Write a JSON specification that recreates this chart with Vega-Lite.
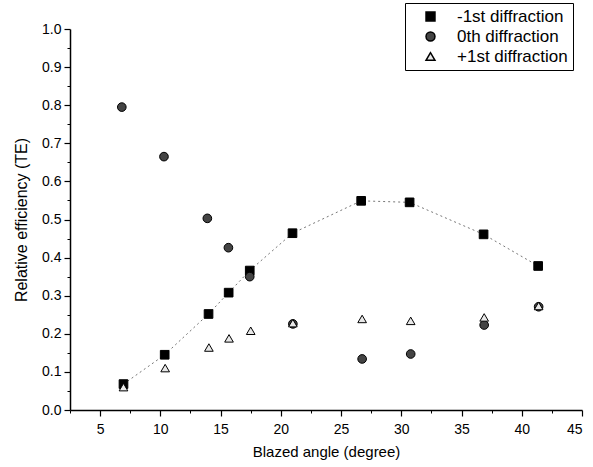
{
  "$schema": "https://vega.github.io/schema/vega-lite/v6.json",
  "width": 512,
  "height": 381,
  "autosize": {"type": "none"},
  "padding": {"left": 70, "top": 29, "right": 11, "bottom": 57},
  "background": "white",
  "datasets": {
    "pts": [
      {"angle": 6.94, "eff": 0.068, "series": "-1st diffraction"},
      {"angle": 10.36, "eff": 0.145, "series": "-1st diffraction"},
      {"angle": 14.0, "eff": 0.252, "series": "-1st diffraction"},
      {"angle": 15.67, "eff": 0.308, "series": "-1st diffraction"},
      {"angle": 17.42, "eff": 0.366, "series": "-1st diffraction"},
      {"angle": 20.97, "eff": 0.464, "series": "-1st diffraction"},
      {"angle": 26.67, "eff": 0.549, "series": "-1st diffraction"},
      {"angle": 30.69, "eff": 0.545, "series": "-1st diffraction"},
      {"angle": 36.83, "eff": 0.461, "series": "-1st diffraction"},
      {"angle": 41.36, "eff": 0.378, "series": "-1st diffraction"},
      {"angle": 6.8, "eff": 0.795, "series": "0th diffraction"},
      {"angle": 10.3, "eff": 0.665, "series": "0th diffraction"},
      {"angle": 13.9, "eff": 0.503, "series": "0th diffraction"},
      {"angle": 15.65, "eff": 0.426, "series": "0th diffraction"},
      {"angle": 17.42, "eff": 0.35, "series": "0th diffraction"},
      {"angle": 21.0, "eff": 0.226, "series": "0th diffraction"},
      {"angle": 26.75, "eff": 0.134, "series": "0th diffraction"},
      {"angle": 30.78, "eff": 0.147, "series": "0th diffraction"},
      {"angle": 36.88, "eff": 0.223, "series": "0th diffraction"},
      {"angle": 41.4, "eff": 0.271, "series": "0th diffraction"},
      {"angle": 6.94, "eff": 0.06, "series": "+1st diffraction"},
      {"angle": 10.4, "eff": 0.11, "series": "+1st diffraction"},
      {"angle": 14.03, "eff": 0.164, "series": "+1st diffraction"},
      {"angle": 15.7, "eff": 0.188, "series": "+1st diffraction"},
      {"angle": 17.5, "eff": 0.208, "series": "+1st diffraction"},
      {"angle": 21.0, "eff": 0.228, "series": "+1st diffraction"},
      {"angle": 26.75, "eff": 0.239, "series": "+1st diffraction"},
      {"angle": 30.78, "eff": 0.234, "series": "+1st diffraction"},
      {"angle": 36.88, "eff": 0.243, "series": "+1st diffraction"},
      {"angle": 41.4, "eff": 0.273, "series": "+1st diffraction"}
    ]
  },
  "data": {"name": "pts"},
  "layer": [
    {
      "transform": [{"filter": "datum.series === '-1st diffraction'"}],
      "mark": {"type": "line", "color": "#777777", "strokeWidth": 1, "strokeDash": [2, 3]},
      "encoding": {
        "x": {"field": "angle", "type": "quantitative", "scale": {"domain": [2.5, 45], "nice": false, "zero": false},
          "axis": {"orient": "bottom", "values": [2.5, 7.5, 12.5, 17.5, 22.5, 27.5, 32.5, 37.5, 42.5], "labels": false, "title": null, "domain": false, "tickSize": 3, "tickWidth": 1}},
        "y": {"field": "eff", "type": "quantitative", "scale": {"domain": [0, 1], "nice": false},
          "axis": {"orient": "left", "values": [0.05, 0.15, 0.25, 0.35, 0.45, 0.55, 0.65, 0.75, 0.85, 0.95], "labels": false, "title": null, "domain": false, "tickSize": 3, "tickWidth": 1}}
      }
    },
    {
      "mark": {"type": "point", "filled": true, "stroke": "black", "strokeWidth": 1, "opacity": 1, "size": 75},
      "encoding": {
        "x": {"field": "angle", "type": "quantitative", "scale": {"domain": [2.5, 45], "nice": false, "zero": false},
          "axis": {"orient": "bottom", "values": [5, 10, 15, 20, 25, 30, 35, 40, 45], "title": "Blazed angle (degree)", "titleFontSize": 15, "titlePadding": 8, "labelFontSize": 14, "labelPadding": 6, "tickSize": 6, "tickWidth": 1.2, "domainWidth": 1.5}},
        "y": {"field": "eff", "type": "quantitative", "scale": {"domain": [0, 1], "nice": false},
          "axis": {"orient": "left", "values": [0, 0.1, 0.2, 0.3, 0.4, 0.5, 0.6, 0.7, 0.8, 0.9, 1.0], "format": ".1f", "title": "Relative efficiency (TE)", "titleFontSize": 16, "titlePadding": 12, "labelFontSize": 14, "labelPadding": 3, "tickSize": 6, "tickWidth": 1.2, "domainWidth": 1.5}},
        "shape": {"field": "series", "type": "nominal",
          "scale": {"domain": ["-1st diffraction", "0th diffraction", "+1st diffraction"], "range": ["square", "circle", "triangle-up"]},
          "legend": {"title": null, "orient": "none", "legendX": 335, "legendY": -26, "strokeColor": "black", "padding": 5, "rowPadding": 2, "labelFontSize": 17, "labelColor": "black", "labelFont": "Liberation Sans", "labelOffset": 18, "symbolSize": 80, "symbolOffset": 12, "fillColor": "white",
            "encode": {"symbols": {"update": {"stroke": {"value": "black"}, "strokeWidth": {"value": 0.9}}}}}},
        "fill": {"field": "series", "type": "nominal",
          "scale": {"domain": ["-1st diffraction", "0th diffraction", "+1st diffraction"], "range": ["#000000", "#444444", "#e8e8e8"]},
          "legend": {"title": null, "orient": "none", "legendX": 335, "legendY": -26, "strokeColor": "black", "padding": 5, "rowPadding": 2, "labelFontSize": 17, "labelColor": "black", "labelFont": "Liberation Sans", "labelOffset": 18, "symbolSize": 80, "symbolOffset": 12, "fillColor": "white",
            "encode": {"symbols": {"update": {"stroke": {"value": "black"}, "strokeWidth": {"value": 0.9}}}}}}
      }
    }
  ],
  "resolve": {"axis": {"x": "independent", "y": "independent"}},
  "config": {
    "view": {"stroke": null},
    "font": "Liberation Sans",
    "axis": {"domainColor": "black", "tickColor": "black", "labelColor": "black", "titleColor": "black", "grid": false, "labelFont": "Liberation Sans", "titleFont": "Liberation Sans", "titleFontWeight": "normal"}
  }
}
